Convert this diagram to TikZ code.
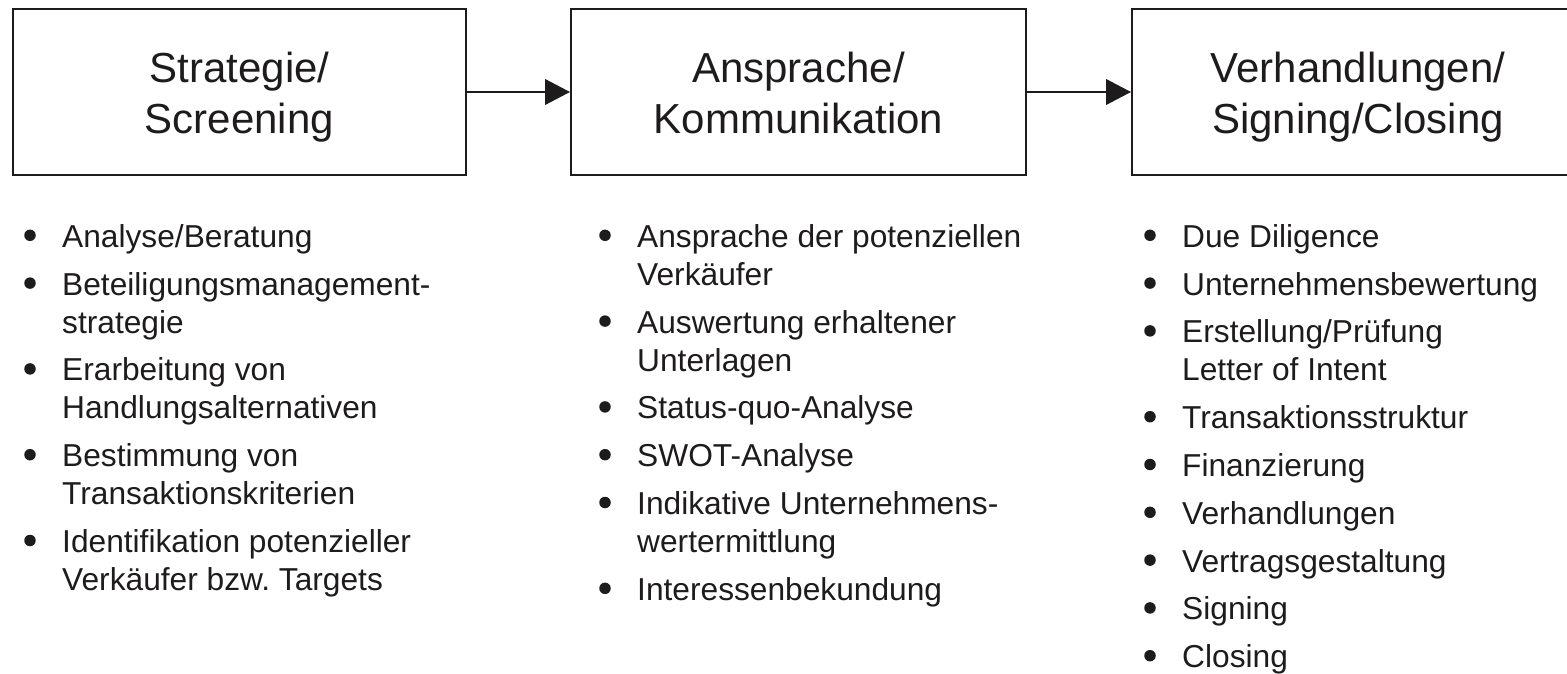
\documentclass[tikz,border=0pt]{standalone}
\usepackage{fontspec}
\setmainfont{Liberation Sans}
\usetikzlibrary{arrows.meta}

\definecolor{ink}{RGB}{30,27,28}

% bullet + first line of a list entry: name, bullet x, text x, baseline, text
\newcommand{\listentry}[5]{%
  \node[dot] (#1-dot) at (#2,#4-12) {};
  \node[entry] (#1) at (#3,#4) {#5};
}
% continuation line of a list entry: name, text x, baseline, text
\newcommand{\listcont}[4]{%
  \node[entry] (#1) at (#2,#3) {#4};
}

\begin{document}
\begin{tikzpicture}[x=1pt,y=-1pt,
  stage/.style={draw=ink, line width=2pt, minimum width=454pt, minimum height=166pt, inner sep=0pt},
  title/.style={anchor=base, inner sep=0pt, text=ink, font=\fontsize{42}{50.7}\selectfont},
  flow/.style={draw=ink, line width=1.7pt, -{Triangle[length=25pt,width=25.7pt]}},
  dot/.style={circle, fill=ink, inner sep=0pt, minimum size=11.5pt},
  entry/.style={anchor=base west, inner sep=0pt, text=ink, font=\fontsize{31.7}{38}\selectfont}
]
\useasboundingbox (0,0) rectangle (1567,674);

% process stages
\node[stage, minimum width=453pt] (s1) at (239.5,92) {};
\node[stage, minimum width=455pt] (s2) at (798.5,92) {};
\node[stage] (s3) at (1359,92) {};

\node[title] (s1-l1) at (239.5,83) {Strategie/};
\node[title] (s1-l2) at (239.5,133.7) {Screening};
\node[title] (s2-l1) at (798.5,83) {Ansprache/};
\node[title] (s2-l2) at (798.5,133.7) {Kommunikation};
\node[title] (s3-l1) at (1358,83) {Verhandlungen/};
\node[title] (s3-l2) at (1358,133.7) {Signing/Closing};

\draw[flow] (s1) -- (s2);
\draw[flow] (s2) -- (s3);

% tasks of stage 1
\listentry{a1}{30}{62}{247.3}{Analyse/Beratung}
\listentry{a2}{30}{62}{295.1}{Beteiligungsmanagement-}
\listcont{a2b}{62}{333.1}{strategie}
\listentry{a3}{30}{62}{380.9}{Erarbeitung von}
\listcont{a3b}{62}{418.9}{Handlungsalternativen}
\listentry{a4}{30}{62}{466.7}{Bestimmung von}
\listcont{a4b}{62}{504.7}{Transaktionskriterien}
\listentry{a5}{30}{62}{552.5}{Identifikation potenzieller}
\listcont{a5b}{62}{590.5}{Verkäufer bzw.\ Targets}

% tasks of stage 2
\listentry{b1}{605}{637}{247.3}{Ansprache der potenziellen}
\listcont{b1b}{637}{285.3}{Verkäufer}
\listentry{b2}{605}{637}{333.1}{Auswertung erhaltener}
\listcont{b2b}{637}{371.1}{Unterlagen}
\listentry{b3}{605}{637}{418.9}{Status-quo-Analyse}
\listentry{b4}{605}{637}{466.7}{SWOT-Analyse}
\listentry{b5}{605}{637}{514.5}{Indikative Unternehmens-}
\listcont{b5b}{637}{552.5}{wertermittlung}
\listentry{b6}{605}{637}{600.3}{Interessenbekundung}

% tasks of stage 3
\listentry{c1}{1150}{1182}{247.3}{Due Diligence}
\listentry{c2}{1150}{1182}{295.1}{Unternehmensbewertung}
\listentry{c3}{1150}{1182}{342.9}{Erstellung/Prüfung}
\listcont{c3b}{1182}{380.9}{Letter of Intent}
\listentry{c4}{1150}{1182}{428.7}{Transaktionsstruktur}
\listentry{c5}{1150}{1182}{476.5}{Finanzierung}
\listentry{c6}{1150}{1182}{524.3}{Verhandlungen}
\listentry{c7}{1150}{1182}{572.1}{Vertragsgestaltung}
\listentry{c8}{1150}{1182}{619.9}{Signing}
\listentry{c9}{1150}{1182}{667.7}{Closing}
\end{tikzpicture}
\end{document}
